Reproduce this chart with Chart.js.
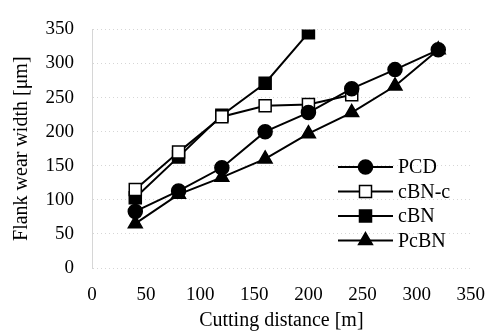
<!DOCTYPE html>
<html>
<head>
<meta charset="utf-8">
<script src="https://cdn.jsdelivr.net/npm/chart.js@4/dist/chart.umd.min.js"></script>
<style>
  html, body { margin: 0; padding: 0; background: #fff; }
  #wrap { width: 501px; height: 334px; }
</style>
</head>
<body>
<div id="wrap"><canvas id="wear_chart" width="501" height="334"></canvas></div>
<script>
const seriesNames = ['PCD', 'cBN-c', 'cBN', 'PcBN'];
const pcdX = [40, 80, 120, 160, 200, 240, 280, 320];
const pcdY = [83, 113, 147, 200, 228, 263, 291, 320];
const cbncX = [40, 80, 120, 160, 200, 240];
const cbncY = [115, 170, 222, 238, 240, 254];
const cbnX = [40, 80, 120, 160, 200];
const cbnY = [103, 163, 224, 271, 345];
const pcbnX = [40, 80, 120, 160, 200, 240, 280, 320];
const pcbnY = [65, 108, 133, 160, 197, 228, 267, 320];
const yTicks = [0, 50, 100, 150, 200, 250, 300, 350];
const xTicks = [0, 50, 100, 150, 200, 250, 300, 350];

const serif = "'Liberation Serif', 'DejaVu Serif', serif";

function toPoints(xs, ys) {
    return xs.map((x, i) => ({ x: x, y: ys[i] }));
}

function makeSeries(label, xs, ys, style, fill, radius) {
    return {
        label: label,
        data: toPoints(xs, ys),
        borderColor: '#000',
        borderWidth: 2,
        pointStyle: style,
        pointRadius: radius,
        pointBackgroundColor: fill,
        pointBorderColor: '#000',
        pointBorderWidth: 1.5,
        tension: 0
    };
}

// legend drawn inside the plot, line sample with marker in the middle
const insideLegend = {
    id: 'insideLegend',
    afterDraw(chart) {
        const ctx = chart.ctx;
        const x0 = 338, x1 = 393, top = 167, step = 24.5;
        ctx.save();
        chart.data.datasets.forEach((ds, i) => {
            const y = top + i * step;
            ctx.strokeStyle = '#000';
            ctx.lineWidth = 2;
            ctx.beginPath();
            ctx.moveTo(x0, y);
            ctx.lineTo(x1, y);
            ctx.stroke();
            ctx.fillStyle = ds.pointBackgroundColor;
            ctx.lineWidth = ds.pointBorderWidth;
            Chart.helpers.drawPoint(ctx, {
                pointStyle: ds.pointStyle,
                radius: ds.pointRadius,
                borderWidth: ds.pointBorderWidth,
                rotation: 0
            }, (x0 + x1) / 2, y);
            ctx.fillStyle = '#000';
            ctx.font = '20px ' + serif;
            ctx.textBaseline = 'middle';
            ctx.textAlign = 'left';
            ctx.fillText(ds.label, x1 + 5, y + 1);
        });
        ctx.restore();
    }
};

const ctx = document.getElementById('wear_chart').getContext('2d');
const wear_chart = new Chart(ctx, {
    type: 'line',
    data: {
        datasets: [
            makeSeries(seriesNames[0], pcdX, pcdY, 'circle', '#000', 7),
            makeSeries(seriesNames[1], cbncX, cbncY, 'rect', '#fff', 8.5),
            makeSeries(seriesNames[2], cbnX, cbnY, 'rect', '#000', 8.5),
            makeSeries(seriesNames[3], pcbnX, pcbnY, 'triangle', '#000', 8)
        ]
    },
    options: {
        responsive: false,
        animation: false,
        layout: { padding: { top: 20, right: 27, left: 0, bottom: 0 } },
        plugins: {
            legend: { display: false },
            tooltip: { enabled: false }
        },
        scales: {
            x: {
                type: 'linear',
                min: 0,
                max: 350,
                afterBuildTicks: (scale) => { scale.ticks = xTicks.map(v => ({ value: v })); },
                afterFit: (scale) => { scale.height = 66; },
                grid: { display: false, drawTicks: false },
                border: { display: false },
                ticks: {
                    color: '#000',
                    padding: 16,
                    maxRotation: 0,
                    font: { family: serif, size: 19 }
                },
                title: {
                    display: true,
                    text: 'Cutting distance [m]',
                    color: '#000',
                    padding: { top: 2, bottom: 1 },
                    font: { family: serif, size: 20 }
                }
            },
            y: {
                min: 0,
                max: 350,
                afterBuildTicks: (scale) => { scale.ticks = yTicks.map(v => ({ value: v })); },
                afterFit: (scale) => { scale.width = 92; },
                grid: {
                    color: '#d6d6d6',
                    lineWidth: 1,
                    drawTicks: false
                },
                // in v4 border.dash also dashes the grid lines
                border: { display: true, color: '#d6d6d6', dash: [1, 3] },
                ticks: {
                    color: '#000',
                    padding: 18,
                    font: { family: serif, size: 19 }
                },
                title: {
                    display: true,
                    text: 'Flank wear width [μm]',
                    color: '#000',
                    padding: { top: 10, bottom: 0 },
                    font: { family: serif, size: 20 }
                }
            }
        }
    },
    plugins: [insideLegend]
});
</script>
</body>
</html>
